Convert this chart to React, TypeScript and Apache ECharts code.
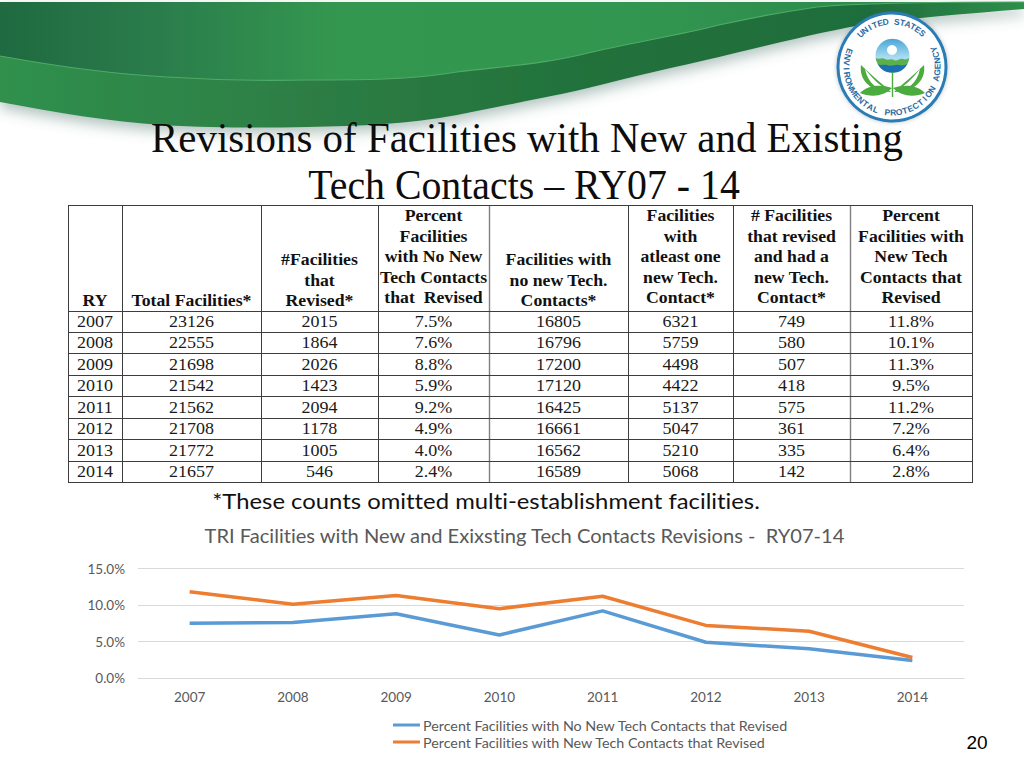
import React, { useEffect, useRef } from "react";
import * as echarts from "echarts";

const years = ["2007", "2008", "2009", "2010", "2011", "2012", "2013", "2014"];
const totalFacilities = ["23126", "22555", "21698", "21542", "21562", "21708", "21772", "21657"];
const facilitiesRevised = ["2015", "1864", "2026", "1423", "2094", "1178", "1005", "546"];
const pctNoNew = [7.5, 7.6, 8.8, 5.9, 9.2, 4.9, 4.0, 2.4];
const noNewTech = ["16805", "16796", "17200", "17120", "16425", "16661", "16562", "16589"];
const withNewTech = ["6321", "5759", "4498", "4422", "5137", "5047", "5210", "5068"];
const revisedWithNew = ["749", "580", "507", "418", "575", "361", "335", "142"];
const pctNew = [11.8, 10.1, 11.3, 9.5, 11.2, 7.2, 6.4, 2.8];

const headerCols: string[][] = [
  ["RY"],
  ["Total Facilities*"],
  ["#Facilities", "that", "Revised*"],
  ["Percent", "Facilities", "with No New", "Tech Contacts", "that  Revised"],
  ["Facilities with", "no new Tech.", "Contacts*"],
  ["Facilities", "with", "atleast one", "new Tech.", "Contact*"],
  ["# Facilities", "that revised", "and had a", "new Tech.", "Contact*"],
  ["Percent", "Facilities with", "New Tech", "Contacts that", "Revised"],
];

const seriesNoNew = "Percent Facilities with No New Tech Contacts that Revised";
const seriesNew = "Percent Facilities with New Tech Contacts that Revised";
const chartTitle = "TRI Facilities with New and Exixsting Tech Contacts Revisions -  RY07-14";
const slideTitle = ["Revisions of Facilities with New and Existing", "Tech Contacts \u2013 RY07 - 14"];
const footnote = "*These counts omitted multi-establishment facilities.";
const sealTop = "UNITED STATES";
const sealBottom = "ENVIRONMENTAL PROTECTION AGENCY";

const waveAll =
  "M0,102 C55,112 110,122 163,125 C215,128 260,128 307,127 C360,126 410,124 457,115 C505,105 545,98 588,88 C635,76 675,67 719,57 C765,46 805,36 850,27 C905,18 965,14 1024,9 L1024,2 L0,2 Z";
const waveTop =
  "M0,56 C55,66 110,74 167,77 C215,80 260,81 307,80 C360,80 410,80 457,72 C505,66 545,64 588,53 C635,42 675,36 719,25 C755,17 790,11 817,7 C860,3 930,2 1024,2 L0,2 Z";
const waveLine =
  "M0,56 C55,66 110,74 167,77 C215,80 260,81 307,80 C360,80 410,80 457,72 C505,66 545,64 588,53 C635,42 675,36 719,25 C755,17 790,11 817,7 C860,3 930,2 1024,2";
const leafLeft = "M891,92 C880,82 868,72 861,65 C859,79 869,92 891,92 Z M865,69 C872,78 880,86 888,90 C878,90 868,84 865,69 Z";
const leafRight = "M894,92 C905,82 917,72 924,65 C926,79 916,92 894,92 Z M920,69 C913,78 905,86 897,90 C907,90 917,84 920,69 Z";
const leafLowLeft = "M892,88 C880,84 868,85 860,93 C872,98 884,96 892,88 Z";
const leafLowRight = "M893,88 C905,84 917,85 925,93 C913,98 901,96 893,88 Z";
const seedBand = "M875.7,58 C879,60 882,57 885,59 C888,61 891,58 894,60 C897,62 900,58 903,59 C905,60 908,59 909.3,58 A17,17 0 0 1 875.7,58 Z";
const seedBlue = "M877.6,64 C881,66 884,64 887,65 C891,67 895,64 899,65 C902,66 905,65 907.4,64 A17,17 0 0 1 877.6,64 Z";

echarts.graphic.registerShape("waveAll", echarts.graphic.extendPath(waveAll, {}));
echarts.graphic.registerShape("waveTop", echarts.graphic.extendPath(waveTop, {}));
echarts.graphic.registerShape("waveLine", echarts.graphic.extendPath(waveLine, {}));
echarts.graphic.registerShape("leafLeft", echarts.graphic.extendPath(leafLeft, {}));
echarts.graphic.registerShape("leafRight", echarts.graphic.extendPath(leafRight, {}));
echarts.graphic.registerShape("leafLowLeft", echarts.graphic.extendPath(leafLowLeft, {}));
echarts.graphic.registerShape("leafLowRight", echarts.graphic.extendPath(leafLowRight, {}));
echarts.graphic.registerShape("seedBand", echarts.graphic.extendPath(seedBand, {}));
echarts.graphic.registerShape("seedBlue", echarts.graphic.extendPath(seedBlue, {}));

const measureCtx = document.createElement("canvas").getContext("2d") as CanvasRenderingContext2D;
function fitScale(str: string, font: string, target: number) {
  measureCtx.font = font;
  return target / measureCtx.measureText(str).width;
}

const SERIF = '"Liberation Serif"';

function label(text: string, x: number, y: number, fontSize: number, opts: any = {}) {
  const { fontFamily = SERIF, fontWeight = "normal", fill = "#111", scaleX = 1, rotation = 0, silent = true } = opts;
  return {
    type: "text",
    x,
    y,
    scaleX,
    rotation,
    silent,
    style: { text, fontSize, fontFamily, fontWeight, fill, align: "center", verticalAlign: "middle" },
  };
}

function buildGraphics() {
  const g: any[] = [];
  const horiz = (stops: [number, string][]) =>
    new echarts.graphic.LinearGradient(0, 0, 1, 0, stops.map(([offset, color]) => ({ offset, color })));

  // header band
  g.push({
    type: "waveAll",
    x: 0,
    y: 0,
    silent: true,
    style: {
      fill: horiz([[0, "#30904d"], [0.33, "#2c7c44"], [0.6, "#20703a"], [0.85, "#1f6e3c"], [1, "#2f8e4c"]]),
      shadowColor: "rgba(80,120,110,0.45)",
      shadowBlur: 14,
      shadowOffsetY: 6,
    },
  });
  g.push({
    type: "waveTop",
    x: 0,
    y: 0,
    silent: true,
    style: {
      fill: horiz([[0, "#1f6a40"], [0.12, "#28784a"], [0.33, "#34974f"], [0.6, "#329650"], [0.85, "#2d8c4b"], [1, "#37995a"]]),
    },
  });
  g.push({ type: "waveLine", x: 0, y: 0, silent: true, style: { fill: "none", stroke: "#4fab68", lineWidth: 1.2 } });

  // seal
  const cx = 892;
  const cy = 67;
  g.push({
    type: "circle",
    silent: true,
    shape: { cx, cy, r: 54 },
    style: { fill: "#fff", stroke: "#2a7cb5", lineWidth: 3, shadowColor: "rgba(60,80,90,0.35)", shadowBlur: 4 },
  });
  g.push({
    type: "circle",
    silent: true,
    shape: { cx: 892.5, cy: 55.7, r: 17 },
    style: { fill: new echarts.graphic.LinearGradient(0, 0, 0, 1, [{ offset: 0, color: "#4aa5d8" }, { offset: 0.55, color: "#a9dcf0" }, { offset: 1, color: "#a9dcf0" }]) },
  });
  g.push({ type: "circle", silent: true, shape: { cx: 892, cy: 50, r: 5 }, style: { fill: "#fff" } });
  g.push({ type: "seedBand", x: 0, y: 0, silent: true, style: { fill: "#5cb04a" } });
  g.push({ type: "seedBlue", x: 0, y: 0, silent: true, style: { fill: "#1c6fb3" } });
  g.push({ type: "line", silent: true, shape: { x1: 892.5, y1: 72, x2: 892.5, y2: 97 }, style: { stroke: "#4cab3f", lineWidth: 1.4 } });
  g.push({ type: "leafLeft", x: 0, y: 0, silent: true, style: { fill: "#4cab3f" } });
  g.push({ type: "leafRight", x: 0, y: 0, silent: true, style: { fill: "#4cab3f" } });
  g.push({ type: "leafLowLeft", x: 0, y: 0, silent: true, style: { fill: "#4cab3f" } });
  g.push({ type: "leafLowRight", x: 0, y: 0, silent: true, style: { fill: "#4cab3f" } });
  const sealFont = { fontFamily: '"Liberation Sans"', fontWeight: "bold", fill: "#2b6ca3" };
  const R = 45.5;
  sealTop.split("").forEach((ch, i) => {
    const deg = -43.5 + i * 7.1;
    const t = (deg * Math.PI) / 180;
    if (ch !== " ") g.push(label(ch, cx + R * Math.sin(t), cy - R * Math.cos(t), 8.5, { ...sealFont, rotation: -t }));
  });
  sealBottom.split("").forEach((ch, i) => {
    const deg = 290 - i * 7.43;
    const t = (deg * Math.PI) / 180;
    if (ch !== " ") g.push(label(ch, cx + R * Math.sin(t), cy - R * Math.cos(t), 8.5, { ...sealFont, rotation: Math.PI - t }));
  });

  // slide title
  const titleFont = `42px ${SERIF}`;
  g.push(label(slideTitle[0], 527, 138, 42, { scaleX: fitScale(slideTitle[0], titleFont, 752), fill: "#0d0d0d" }));
  g.push(label(slideTitle[1], 524, 185, 42, { scaleX: fitScale(slideTitle[1], titleFont, 432), fill: "#0d0d0d" }));

  // table
  const colEdges = [68, 122, 261, 378, 489, 628, 733, 850, 972];
  const softEdges = ["489", "850"];
  const rowTop = 205;
  const headBottom = 310.5;
  const rowH = 21.45;
  const tableBottom = headBottom + rowH * years.length;
  colEdges.forEach((x) => {
    const soft = softEdges.includes(String(x));
    g.push({
      type: "line",
      silent: true,
      shape: { x1: x + 0.5, y1: rowTop, x2: x + 0.5, y2: tableBottom },
      style: { stroke: soft ? "#808080" : "#3d3d3d", lineWidth: soft ? 1.4 : 1 },
    });
  });
  [rowTop, ...years.map((_, i) => headBottom + rowH * i), tableBottom].forEach((y) =>
    g.push({ type: "line", silent: true, shape: { x1: 68, y1: Math.round(y) + 0.5, x2: 973, y2: Math.round(y) + 0.5 }, style: { stroke: "#3d3d3d", lineWidth: 1 } })
  );
  const colCenter = colEdges.slice(0, -1).map((x, i) => (x + colEdges[i + 1]) / 2);
  const headFont = `bold 16.5px ${SERIF}`;
  const headScale = fitScale("Total Facilities*", headFont, 120);
  headerCols.forEach((lines, c) => {
    const baseY = lines.length === 5 ? 216 : 301 - (lines.length - 1) * 20.5;
    const step = 20.5;
    lines.forEach((line, i) => {
      g.push(label(line, colCenter[c], baseY + i * step, 16.5, { fontWeight: "bold", scaleX: headScale }));
    });
  });
  const bodyFont = `16.5px ${SERIF}`;
  const bodyScale = fitScale("23126", bodyFont, 45);
  const pct = (v: number) => v.toFixed(1) + "%";
  const bodyCols = [years, totalFacilities, facilitiesRevised, pctNoNew.map(pct), noNewTech, withNewTech, revisedWithNew, pctNew.map(pct)];
  bodyCols.forEach((col, c) => {
    col.forEach((val, r) => {
      g.push(label(val, colCenter[c], headBottom + rowH * (r + 0.5) + 0.5, 16.5, { scaleX: bodyScale, fill: "#1a1a1a" }));
    });
  });

  // footnote + page number
  const noteFont = `22px Lato`;
  g.push(label(footnote, 486, 500, 22, { fontFamily: "Lato", scaleX: fitScale(footnote, noteFont, 548), fill: "#111" }));
  g.push(label("20", 977, 742, 19, { fontFamily: '"Liberation Sans"', fill: "#000" }));
  return g;
}

export default function App() {
  const ref = useRef<HTMLDivElement>(null);
  useEffect(() => {
    const chart = echarts.init(ref.current as HTMLDivElement, undefined, { renderer: "svg" });
    chart.setOption({
      animation: false,
      backgroundColor: "#fff",
      title: {
        text: chartTitle,
        left: 519.5,
        top: 520,
        textAlign: "center",
        textStyle: { fontFamily: "Lato", fontSize: 20.1, fontWeight: "normal", color: "#595959" },
      },
      legend: {
        orient: "vertical",
        left: 393,
        top: 718,
        itemWidth: 27,
        itemHeight: 3,
        itemGap: 3,
        icon: "rect",
        selectedMode: false,
        data: [seriesNoNew, seriesNew],
        textStyle: { fontFamily: "Lato", fontSize: 14.3, color: "#595959", padding: [0, 0, 0, -2] },
        padding: 0,
      },
      grid: { left: 138, right: 60, top: 568.5, height: 109.5, containLabel: false },
      xAxis: {
        type: "category",
        data: years,
        axisTick: { show: false },
        axisLine: { lineStyle: { color: "#d9d9d9", width: 1 } },
        axisLabel: { fontFamily: "Lato", fontSize: 13.5, color: "#595959", margin: 12 },
      },
      yAxis: {
        type: "value",
        min: 0,
        max: 15,
        interval: 5,
        axisLine: { show: false },
        axisTick: { show: false },
        splitLine: { lineStyle: { color: "#d9d9d9", width: 1 } },
        axisLabel: { fontFamily: "Lato", fontSize: 13.5, color: "#595959", margin: 13, formatter: (v: number) => v.toFixed(1) + "%" },
      },
      series: [
        { name: seriesNoNew, type: "line", data: pctNoNew, symbol: "none", lineStyle: { color: "#5b9bd5", width: 3.5 }, itemStyle: { color: "#5b9bd5" } },
        { name: seriesNew, type: "line", data: pctNew, symbol: "none", lineStyle: { color: "#ed7d31", width: 3.5 }, itemStyle: { color: "#ed7d31" } },
      ],
      graphic: { elements: buildGraphics() },
    });
    return () => chart.dispose();
  }, []);
  return <div ref={ref} style={{ position: "fixed", left: 0, top: 0, width: 1024, height: 768, background: "#fff", fontVariantLigatures: "none" }} />;
}
